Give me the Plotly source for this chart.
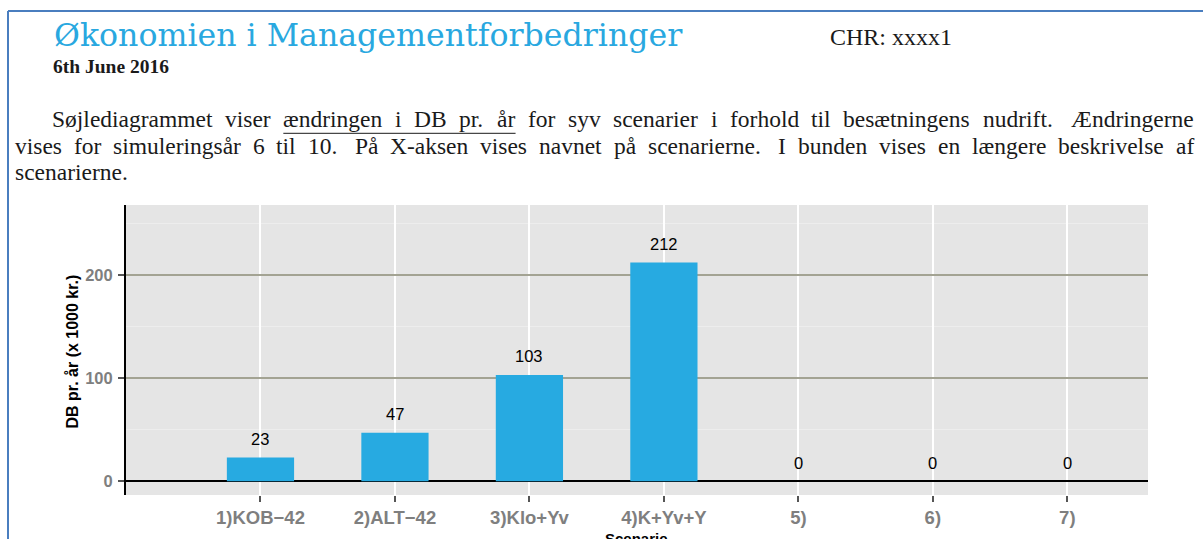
import plotly.graph_objects as go

# ---------------- data ----------------
categories = ["1)KOB\u221242", "2)ALT\u221242", "3)Klo+Yv", "4)K+Yv+Y", "5)", "6)", "7)"]
positions = [1, 2, 3, 4, 5, 6, 7]
db_values = [23, 47, 103, 212, 0, 0, 0]
y_ticks = [0, 100, 200]

title_text = "Økonomien i Managementforbedringer"
date_text = "6th June 2016"
chr_text = "CHR: xxxx1"
para_lines = [
    "Søjlediagrammet viser ændringen i DB pr. år for syv scenarier i forhold til besætningens nudrift.  Ændringerne",
    "vises for simuleringsår 6 til 10.  På X-aksen vises navnet på scenarierne.  I bunden vises en længere beskrivelse af",
    "scenarierne.",
]
underlined = "ændringen i DB pr. år"
y_title = "DB pr. år (x 1000 kr.)"
x_title = "Scenarie"

# ---------------- geometry helpers ----------------
W, H = 1203, 539
ML, MR, MT, MB = 126, 55, 205, 44
PW = W - ML - MR
PH = H - MT - MB


def px(x):
    return (x - ML) / PW


def py(y):
    return (H - MB - y) / PH


# Times / Liberation Serif advance widths (per em)
TW = {" ": .25, ".": .25, ",": .25, ":": .278, "-": .333, "(": .333, ")": .333,
      "a": .444, "b": .5, "c": .444, "d": .5, "e": .444, "f": .333, "g": .5, "h": .5,
      "i": .278, "j": .278, "k": .5, "l": .278, "m": .778, "n": .5, "o": .5, "p": .5,
      "q": .5, "r": .333, "s": .389, "t": .278, "u": .5, "v": .5, "w": .722, "x": .5,
      "y": .5, "z": .444, "æ": .667, "ø": .5, "å": .444,
      "A": .722, "B": .667, "C": .667, "D": .722, "E": .611, "F": .556, "G": .722,
      "H": .722, "I": .333, "J": .389, "K": .722, "L": .611, "M": .889, "N": .722,
      "O": .722, "P": .556, "Q": .722, "R": .667, "S": .556, "T": .611, "U": .722,
      "V": .722, "W": .944, "X": .722, "Y": .722, "Z": .611, "Æ": .889, "Ø": .722, "Å": .722}
for d in "0123456789":
    TW[d] = .5


def tw(s, size):
    return sum(TW.get(c, .5) for c in s) * size


BODY_FONT = "Liberation Serif"
BODY_SIZE = 23.5
BODY_COLOR = "#1a1a1a"

annotations = []


def justify(line, left, right, baseline, justify_line=True):
    mid_y = baseline - 0.3375 * BODY_SIZE
    parts = line.split(" ")
    words = []
    weights = []
    pending = 0
    for p in parts:
        if p == "":
            pending += 0.5
            continue
        if words:
            weights.append(1 + pending)
        pending = 0
        words.append(p)
    total = sum(tw(w, BODY_SIZE) for w in words)
    if justify_line and len(words) > 1:
        unit = (right - left - total) / sum(weights)
    else:
        unit = 0.25 * BODY_SIZE
    x = left
    pos = []
    for i, w in enumerate(words):
        pos.append(x)
        annotations.append(dict(
            x=px(x), y=py(mid_y), xref="paper", yref="paper", text=w,
            showarrow=False, xanchor="left", yanchor="middle",
            borderpad=0, borderwidth=0,
            font=dict(family=BODY_FONT, size=BODY_SIZE, color=BODY_COLOR)))
        x += tw(w, BODY_SIZE)
        if i < len(weights):
            x += unit * weights[i]
    return words, pos


baselines = [127.0, 153.5, 180.0]
w1, p1 = justify(para_lines[0], 52, 1194, baselines[0])
justify(para_lines[1], 15, 1194, baselines[1])
justify(para_lines[2], 15, 1194, baselines[2], justify_line=False)

# underline position from the justified words
u_words = underlined.split(" ")
u_start = p1[w1.index(u_words[0])]
u_last = w1.index(u_words[-1])
u_end = p1[u_last] + tw(w1[u_last], BODY_SIZE)

# header texts
annotations += [
    dict(x=px(53), y=py(34.5), xref="paper", yref="paper", text=title_text,
         showarrow=False, xanchor="left", yanchor="middle", borderpad=0,
         font=dict(family="DejaVu Serif", size=31.6, color="#29A8E0")),
    dict(x=px(52), y=py(66.5), xref="paper", yref="paper", text=date_text,
         showarrow=False, xanchor="left", yanchor="middle", borderpad=0,
         font=dict(family="Liberation Serif", size=19.5, color="#1a1a1a", weight="bold")),
    dict(x=px(829), y=py(36.9), xref="paper", yref="paper", text=chr_text,
         showarrow=False, xanchor="left", yanchor="middle", borderpad=0,
         font=dict(family="Liberation Serif", size=24, color="#1a1a1a")),
    dict(x=px(71.5), y=py(352), xref="paper", yref="paper", text=y_title,
         showarrow=False, textangle=-90, xanchor="center", yanchor="middle",
         font=dict(family="Liberation Sans", size=16, color="black", weight="bold")),
    dict(x=px(636.5), y=py(528.5), xref="paper", yref="paper", text=x_title,
         showarrow=False, xanchor="center", yanchor="top", borderpad=0,
         font=dict(family="Liberation Sans", size=15, color="black", weight="bold")),
]

# value labels above bars
for xv, v in zip(positions, db_values):
    annotations.append(dict(
        x=xv, y=v, xref="x", yref="y", text=str(v), showarrow=False,
        xanchor="center", yanchor="middle", yshift=18.5,
        font=dict(family="Liberation Sans", size=16.5, color="black")))

shapes = [
    # page frame (left and top)
    dict(type="line", xref="paper", yref="paper", x0=px(8), x1=px(8), y0=py(11), y1=py(545),
         line=dict(color="#4A7EBF", width=2)),
    dict(type="line", xref="paper", yref="paper", x0=px(8), x1=px(1210), y0=py(11), y1=py(11),
         line=dict(color="#4A7EBF", width=2)),
    # underline
    dict(type="line", xref="paper", yref="paper", x0=px(u_start), x1=px(u_end),
         y0=py(133.3), y1=py(133.3), line=dict(color="#1a1a1a", width=1)),
]

fig = go.Figure()
fig.add_trace(go.Bar(
    x=positions, y=db_values, width=0.5,
    marker=dict(color="#27AAE1", line=dict(width=0)),
    hoverinfo="skip", showlegend=False))

fig.update_layout(
    width=W, height=H,
    margin=dict(l=ML, r=MR, t=MT, b=MB, pad=0),
    paper_bgcolor="white", plot_bgcolor="#E5E5E5",
    showlegend=False,
    annotations=annotations, shapes=shapes,
    xaxis=dict(
        range=[0, 7.6], tickmode="array", tickvals=positions, ticktext=categories,
        showgrid=True, gridcolor="white", gridwidth=2,
        zeroline=False, showline=False,
        ticks="outside", ticklen=6, tickwidth=1.5, tickcolor="#555555",
        tickfont=dict(family="Liberation Sans", size=18.5, color="#7F7F7F", weight="bold"),
    ),
    yaxis=dict(
        range=[-13.3, 267.6], tickmode="array", tickvals=y_ticks,
        showgrid=True, gridcolor="#A3A393", gridwidth=2,
        zeroline=True, zerolinecolor="black", zerolinewidth=2,
        showline=True, linecolor="black", linewidth=2,
        ticks="outside", ticklen=6, tickwidth=1.5, tickcolor="#555555",
        ticklabelstandoff=2,
        tickfont=dict(family="Liberation Sans", size=16.5, color="#7F7F7F", weight="bold"),
        minor=dict(dtick=50, tick0=0, showgrid=True, gridcolor="#EDEDED", gridwidth=1),
    ),
)

fig.write_html("out.html", config={"displayModeBar": False},
               post_script="document.body.style.margin='0';document.body.style.overflow='hidden';")
